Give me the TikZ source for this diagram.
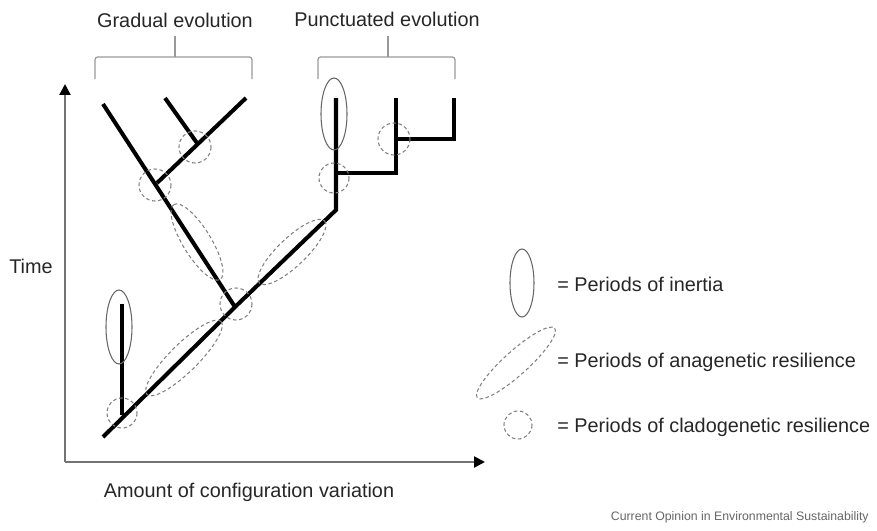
\documentclass[tikz,border=0pt]{standalone}
\usepackage{fontspec}
\setmainfont{Liberation Sans}
\usepackage{tikz}
\usetikzlibrary{arrows.meta}

\begin{document}
\begin{tikzpicture}[
    x=0.02cm, y=-0.02cm,
    label/.style={font=\fontsize{11.3}{13}\selectfont, text=black!85, inner sep=0pt},
    axis/.style={draw=black!55, line width=1.3pt, -{Triangle[length=2.2mm, width=2.2mm, color=black]}},
    branch/.style={line width=2.3pt, line cap=butt, line join=miter},
    bracket/.style={draw=black!40, line width=0.7pt, rounded corners=1.5pt},
    inertia/.style={draw=black!60, line width=0.6pt},
    anagen/.style={draw=black!50, line width=0.6pt, dash pattern=on 2pt off 1.5pt},
    clado/.style={draw=black!50, line width=0.6pt, dash pattern=on 2pt off 1.5pt}
]
\useasboundingbox (0,0) rectangle (877,531);

% axes
\coordinate (origin) at (65,462);
\coordinate (ytip) at (65,84);
\coordinate (xtip) at (485,462);
\draw[axis] (origin) -- (ytip);
\draw[axis] (origin) -- (xtip);
\node[label] (time) at (31,266) {Time};
\node[label] (amount) at (249,492) {Amount of configuration variation};

% tree
\coordinate (root) at (103,437);
\coordinate (j1) at (122,415);
\coordinate (t1) at (122,304);
\coordinate (j2) at (235,307);
\coordinate (j3) at (336,210);
\coordinate (g1) at (103,104);
\coordinate (j4) at (157,183);
\coordinate (g2) at (246,98);
\coordinate (j5) at (197,143);
\coordinate (g3) at (165,98);
\coordinate (p1) at (336,98);
\coordinate (j6) at (336,173);
\coordinate (k1) at (396,173);
\coordinate (p2) at (396,98);
\coordinate (j7) at (396,139);
\coordinate (k2) at (454,139);
\coordinate (p3) at (454,98);

\draw[branch] (root) -- (j2) -- (j3) -- (p1);
\draw[branch] (j1) -- (t1);
\draw[branch] (j2) -- (g1);
\draw[branch] (j4) -- (g2);
\draw[branch] (j5) -- (g3);
\draw[branch] (j6) -- (k1) -- (p2);
\draw[branch] (j7) -- (k2) -- (p3);

% periods
\draw[inertia] (119,327) ellipse [x radius=13, y radius=37];
\draw[inertia] (334,114) ellipse [x radius=13, y radius=36];
\draw[anagen, rotate around={44.6:(184,358)}] (184,358) ellipse [x radius=52, y radius=14];
\draw[anagen, rotate around={43.6:(292,252)}] (292,252) ellipse [x radius=45, y radius=14];
\draw[anagen, rotate around={121.6:(197,242)}] (197,242) ellipse [x radius=44, y radius=14];
\draw[clado] (122,413) circle [radius=15];
\draw[clado] (236,304) circle [radius=16];
\draw[clado] (155,185) circle [radius=16];
\draw[clado] (195,147) circle [radius=16];
\draw[clado] (334,178) circle [radius=15];
\draw[clado] (394,139) circle [radius=16];

% brackets
\node[label] (gradual) at (175,20) {Gradual evolution};
\node[label] (punct) at (387,19) {Punctuated evolution};
\coordinate (gmid) at (175,57);
\coordinate (pmid) at (388,57);
\draw[bracket] (95,79) |- (252,57) -- (252,79);
\draw[bracket] (gmid) -- (175,36);
\draw[bracket] (318,79) |- (455,57) -- (455,79);
\draw[bracket] (pmid) -- (388,36);

% legend
\draw[inertia] (522,283) ellipse [x radius=12, y radius=34];
\node[label, anchor=west] (leg1) at (557,284) {= Periods of inertia};
\draw[anagen, rotate around={42:(516,363)}] (516,363) ellipse [x radius=52, y radius=12];
\node[label, anchor=west] (leg2) at (557,362) {= Periods of anagenetic resilience};
\draw[clado] (518,425) circle [radius=14];
\node[label, anchor=west] (leg3) at (557,427) {= Periods of cladogenetic resilience};

\node[font=\fontsize{7}{8}\selectfont, text=black!60, anchor=east, inner sep=0pt] (credit) at (869,517) {Current Opinion in Environmental Sustainability};
\end{tikzpicture}
\end{document}
